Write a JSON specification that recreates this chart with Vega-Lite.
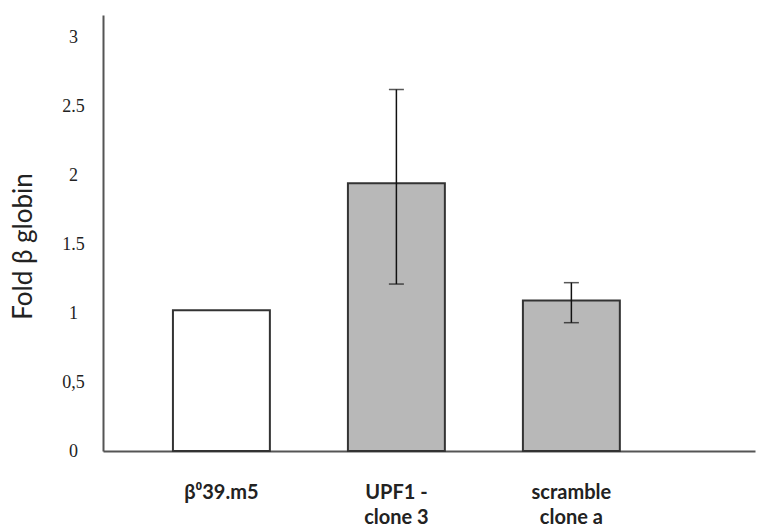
{
  "$schema": "https://vega.github.io/schema/vega-lite/v6.json",
  "autosize": "none",
  "width": 652,
  "height": 436,
  "padding": {"left": 103, "top": 15, "right": 2, "bottom": 77},
  "background": "white",
  "config": {
    "view": {"stroke": null},
    "axisY": {
      "titleFont": "Lato", "titleFontSize": 26, "titleFontWeight": "normal", "titleColor": "#222",
      "titleX": -80, "titleY": 231, "titleAngle": -90, "titleBaseline": "middle", "titleAlign": "center",
      "labelFont": "Liberation Serif", "labelFontSize": 18, "labelColor": "#222",
      "labelAlign": "center", "labelPadding": 30, "ticks": false, "tickSize": 0,
      "grid": false, "domainColor": "#555", "domainWidth": 2
    }
  },
  "data": {"values": [
    {"cat": "β⁰39.m5", "value": 1.02},
    {"cat": "UPF1 -|clone 3", "value": 1.94, "lo": 1.21, "hi": 2.62},
    {"cat": "scramble|clone a", "value": 1.09, "lo": 0.93, "hi": 1.22}
  ]},
  "encoding": {
    "x": {
      "field": "cat", "type": "nominal", "sort": null,
      "scale": {"type": "band", "paddingInner": 0.446, "paddingOuter": 0.586, "align": 0.341},
      "axis": {
        "title": null, "labelAngle": 0, "ticks": false,
        "domainColor": "#555", "domainWidth": 2,
        "labelExpr": "split(datum.label, '|')",
        "labelFont": "Lato", "labelFontWeight": "bold", "labelFontSize": 20,
        "labelColor": "#222", "labelPadding": 41, "labelLineHeight": 25,
        "labelBaseline": "middle", "labelDx": 7
      }
    }
  },
  "layer": [
    {
      "mark": {"type": "bar", "stroke": "#333", "strokeWidth": 2},
      "encoding": {
        "y": {
          "field": "value", "type": "quantitative",
          "scale": {"domain": [0, 3.16], "nice": false, "zero": true},
          "axis": {
            "title": "Fold β globin",
            "values": [0, 0.5, 1, 1.5, 2, 2.5, 3],
            "labelExpr": "datum.value == 0.5 ? '0,5' : format(datum.value, '')"
          }
        },
        "fill": {
          "condition": {"test": "datum.cat == 'β⁰39.m5'", "value": "white"},
          "value": "#b8b8b8"
        }
      }
    },
    {
      "transform": [{"filter": "isValid(datum.lo)"}],
      "mark": {"type": "rule", "color": "#111", "strokeWidth": 1.5},
      "encoding": {
        "y": {"field": "lo", "type": "quantitative"},
        "y2": {"field": "hi"}
      }
    },
    {
      "transform": [{"filter": "isValid(datum.lo)"}],
      "mark": {"type": "tick", "color": "#111", "thickness": 1.5, "size": 15},
      "encoding": {"y": {"field": "lo", "type": "quantitative"}}
    },
    {
      "transform": [{"filter": "isValid(datum.hi)"}],
      "mark": {"type": "tick", "color": "#111", "thickness": 1.5, "size": 15},
      "encoding": {"y": {"field": "hi", "type": "quantitative"}}
    }
  ]
}
